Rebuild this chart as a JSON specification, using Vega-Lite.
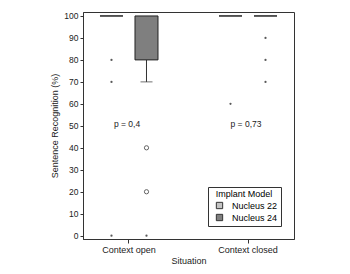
{
  "$schema": "https://vega.github.io/schema/vega-lite/v6.json",
  "width": 211,
  "height": 227,
  "autosize": "none",
  "padding": {"left": 83, "top": 12, "right": 56, "bottom": 35},
  "background": "white",
  "config": {
    "font": "Liberation Sans",
    "view": {"stroke": "#333", "strokeWidth": 1},
    "axis": {"grid": false, "domainColor": "#333", "tickColor": "#333", "labelColor": "#222", "titleColor": "#222", "titleFontWeight": "normal", "labelOverlap": false},
    "axisY": {"tickCount": 11, "labelOverlap": false, "labelFontSize": 8.5, "titleFontSize": 9, "tickSize": 3, "labelPadding": 2, "titlePadding": 4}
  },
  "datasets": {
    "boxes": [
      {"situation": "Context open", "model": "Nucleus 22", "q1": 100, "q3": 100, "median": 100},
      {"situation": "Context open", "model": "Nucleus 24", "q1": 80, "q3": 100, "median": 100},
      {"situation": "Context closed", "model": "Nucleus 22", "q1": 100, "q3": 100, "median": 100},
      {"situation": "Context closed", "model": "Nucleus 24", "q1": 100, "q3": 100, "median": 100}
    ],
    "whiskers": [
      {"situation": "Context open", "model": "Nucleus 24", "lo": 70, "q1": 80}
    ],
    "points": [
      {"situation": "Context open", "model": "Nucleus 22", "value": 80, "kind": "extreme"},
      {"situation": "Context open", "model": "Nucleus 22", "value": 70, "kind": "extreme"},
      {"situation": "Context open", "model": "Nucleus 22", "value": 0, "kind": "extreme"},
      {"situation": "Context open", "model": "Nucleus 24", "value": 40, "kind": "outlier"},
      {"situation": "Context open", "model": "Nucleus 24", "value": 20, "kind": "outlier"},
      {"situation": "Context open", "model": "Nucleus 24", "value": 0, "kind": "extreme"},
      {"situation": "Context closed", "model": "Nucleus 22", "value": 60, "kind": "extreme"},
      {"situation": "Context closed", "model": "Nucleus 24", "value": 90, "kind": "extreme"},
      {"situation": "Context closed", "model": "Nucleus 24", "value": 80, "kind": "extreme"},
      {"situation": "Context closed", "model": "Nucleus 24", "value": 70, "kind": "extreme"}
    ],
    "labels": [
      {"situation": "Context open", "value": 51, "text": "p = 0,4"},
      {"situation": "Context closed", "value": 51, "text": "p = 0,73"}
    ]
  },
  "encoding": {
    "x": {
      "field": "situation", "type": "nominal", "sort": ["Context open", "Context closed"],
      "scale": {"paddingInner": 0.227, "paddingOuter": 0},
      "axis": {"title": "Situation", "labelAngle": 0, "labelFontSize": 9, "titleFontSize": 9, "tickSize": 4, "labelPadding": 2, "titlePadding": 2}
    }
  },
  "layer": [
    {
      "data": {"name": "whiskers"},
      "mark": {"type": "rule", "color": "#333", "strokeWidth": 1},
      "encoding": {
        "xOffset": {"field": "model", "sort": ["Nucleus 22", "Nucleus 24"], "scale": {"domain": ["Nucleus 22", "Nucleus 24"], "paddingInner": 0, "paddingOuter": 0.314}},
        "y": {"field": "lo", "type": "quantitative"},
        "y2": {"field": "q1"}
      }
    },
    {
      "data": {"name": "whiskers"},
      "mark": {"type": "tick", "color": "#333", "size": 12, "thickness": 1},
      "encoding": {
        "xOffset": {"field": "model", "sort": ["Nucleus 22", "Nucleus 24"]},
        "y": {"field": "lo", "type": "quantitative"}
      }
    },
    {
      "data": {"name": "boxes"},
      "mark": {"type": "bar", "width": 23, "stroke": "#222", "strokeWidth": 1},
      "encoding": {
        "xOffset": {"field": "model", "sort": ["Nucleus 22", "Nucleus 24"]},
        "y": {"field": "q1", "type": "quantitative",
          "scale": {"domain": [-1.5, 101.8], "nice": false, "zero": false},
          "axis": {"title": "Sentence Recognition (%)", "values": [0, 10, 20, 30, 40, 50, 60, 70, 80, 90, 100], "labelOverlap": false}},
        "y2": {"field": "q3"},
        "fill": {"field": "model", "type": "nominal",
          "scale": {"domain": ["Nucleus 22", "Nucleus 24"], "range": ["#c4c4c4", "#7f7f7f"]},
          "legend": {"title": "Implant Model", "orient": "bottom-right", "offset": 13, "strokeColor": "#333", "padding": 3, "titleFontSize": 9, "titleFontWeight": "normal", "titleAnchor": "middle", "labelFontSize": 9, "symbolType": "square", "symbolSize": 40, "symbolStrokeColor": "#333", "symbolStrokeWidth": 1, "symbolOffset": 4, "labelOffset": 8, "rowPadding": 1, "titlePadding": 2}}
      }
    },
    {
      "data": {"name": "points"},
      "transform": [{"filter": "datum.kind === 'extreme'"}],
      "mark": {"type": "point", "shape": "circle", "filled": true, "color": "#111", "size": 5},
      "encoding": {
        "xOffset": {"field": "model", "sort": ["Nucleus 22", "Nucleus 24"]},
        "y": {"field": "value", "type": "quantitative"}
      }
    },
    {
      "data": {"name": "points"},
      "transform": [{"filter": "datum.kind === 'outlier'"}],
      "mark": {"type": "point", "shape": "circle", "filled": false, "color": "#222", "size": 18, "strokeWidth": 1},
      "encoding": {
        "xOffset": {"field": "model", "sort": ["Nucleus 22", "Nucleus 24"]},
        "y": {"field": "value", "type": "quantitative"}
      }
    },
    {
      "data": {"name": "labels"},
      "mark": {"type": "text", "fontSize": 8.5, "color": "#222", "dx": -2},
      "encoding": {
        "y": {"field": "value", "type": "quantitative"},
        "text": {"field": "text"}
      }
    }
  ]
}
